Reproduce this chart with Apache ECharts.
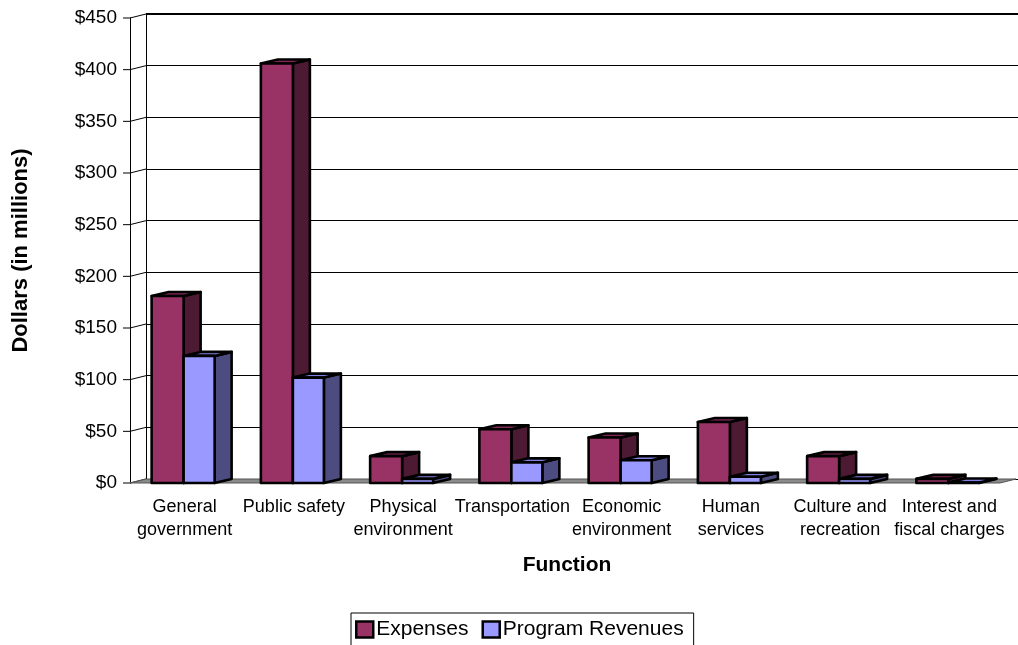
<!DOCTYPE html>
<html>
<head>
<meta charset="utf-8">
<script src="https://cdn.jsdelivr.net/npm/echarts@6/dist/echarts.min.js"></script>
<style>html,body{margin:0;padding:0;background:#fff}#c{width:1018px;height:645px}</style>
</head>
<body>
<div id="c"></div>
<script>
const categories = ['General\ngovernment','Public safety','Physical\nenvironment','Transportation','Economic\nenvironment','Human\nservices','Culture and\nrecreation','Interest and\nfiscal charges'];
const expenses = [181, 406, 26, 52, 44, 59, 26, 4];
const revenues = [123, 102, 4, 20, 22, 6, 4, 0.5];
const yTicks = [0, 50, 100, 150, 200, 250, 300, 350, 400, 450];

const FONT = 'Liberation Sans, Arial, sans-serif';
const WALL_DX = 16, WALL_DY = -4;
const BAR_DX = 17, BAR_DY = -4;

function barRenderer(front, side, top, offsetPx, widthPx) {
  return function (params, api) {
    const i = api.value(0), v = api.value(1);
    const t = api.coord([i, v]);
    const b = api.coord([i, 0]);
    const x0 = t[0] + offsetPx;
    const x1 = x0 + widthPx;
    const yt = t[1], yb = b[1];
    const st = { stroke: '#000', lineWidth: 2.6, lineJoin: 'round' };
    return {
      type: 'group',
      children: [
        { type: 'polygon', shape: { points: [[x1, yt], [x1 + BAR_DX, yt + BAR_DY], [x1 + BAR_DX, yb + BAR_DY], [x1, yb]] }, style: Object.assign({ fill: side }, st) },
        { type: 'polygon', shape: { points: [[x0, yt], [x0 + BAR_DX, yt + BAR_DY], [x1 + BAR_DX, yt + BAR_DY], [x1, yt]] }, style: Object.assign({ fill: top }, st) },
        { type: 'rect', shape: { x: x0, y: yt, width: widthPx, height: yb - yt }, style: Object.assign({ fill: front }, st) }
      ]
    };
  };
}

function frameRenderer(params, api) {
  const v = api.value(0);
  const bw = api.size([1, 0])[0];
  const p = api.coord([0, v]);
  const xl = p[0] - bw / 2;
  const pr = api.coord([categories.length - 1, v]);
  const xr = pr[0] + bw / 2;
  const children = [
    { type: 'line', shape: { x1: xl - 7, y1: p[1], x2: xl, y2: p[1] }, style: { stroke: '#000', lineWidth: 1 } },
    { type: 'line', shape: { x1: xl, y1: p[1], x2: xl + WALL_DX, y2: p[1] + WALL_DY }, style: { stroke: '#000', lineWidth: 1 } }
  ];
  if (v === 0) {
    children.push({ type: 'polygon', shape: { points: [[xl, p[1]], [xr - 4, p[1]], [xr + WALL_DX - 4, p[1] + WALL_DY], [xl + WALL_DX, p[1] + WALL_DY]] }, style: { fill: '#8a8a8a', stroke: '#555', lineWidth: 1 } });
  }
  if (v === yTicks[yTicks.length - 1]) {
    children.push({ type: 'line', shape: { x1: xl + WALL_DX, y1: p[1] + WALL_DY, x2: xr + WALL_DX + 20, y2: p[1] + WALL_DY }, style: { stroke: '#000', lineWidth: 2 } });
  }
  return { type: 'group', children };
}

const chart = echarts.init(document.getElementById('c'), null, { renderer: 'canvas' });
chart.setOption({
  animation: false,
  backgroundColor: '#fff',
  textStyle: { fontFamily: FONT, color: '#000' },
  grid: [
    { left: 130, right: 14, top: 18, bottom: 162 },
    { left: 146, right: 0, top: 14, bottom: 166 }
  ],
  xAxis: [
    {
      type: 'category', gridIndex: 0, data: categories,
      axisLine: { show: false }, axisTick: { show: false },
      axisLabel: { interval: 0, color: '#000', fontSize: 18, fontFamily: FONT, lineHeight: 23, margin: 13 },
      name: 'Function', nameLocation: 'middle', nameGap: 72,
      nameTextStyle: { fontSize: 21, fontWeight: 'bold', fontFamily: FONT, color: '#000' }
    },
    { type: 'value', gridIndex: 1, show: false }
  ],
  yAxis: [
    {
      type: 'value', gridIndex: 0, min: 0, max: 450, interval: 50,
      axisLine: { show: true, lineStyle: { color: '#000', width: 1 } },
      axisTick: { show: false },
      splitLine: { show: false },
      axisLabel: { formatter: v => '$' + v, color: '#000', fontSize: 19, fontFamily: FONT, margin: 13 },
      name: 'Dollars (in millions)', nameLocation: 'middle', nameRotate: 90, nameGap: 98,
      nameTextStyle: { fontSize: 22, fontWeight: 'bold', fontFamily: FONT, color: '#000' }
    },
    {
      type: 'value', gridIndex: 1, min: 0, max: 450, interval: 50,
      axisLine: { show: true, lineStyle: { color: '#000', width: 1 } },
      axisTick: { show: false }, axisLabel: { show: false },
      splitLine: { show: true, lineStyle: { color: '#000', width: 1 } }
    }
  ],
  legend: {
    data: ['Expenses', 'Program Revenues'],
    left: 351, top: 613,
    orient: 'horizontal',
    icon: 'rect', itemWidth: 17, itemHeight: 16, itemGap: 13,
    padding: [6, 10, 6, 4],
    borderColor: '#000', borderWidth: 1,
    textStyle: { fontSize: 21, fontFamily: FONT, color: '#000', padding: [0, 0, 0, -2] },
    itemStyle: { borderColor: '#000', borderWidth: 2.5 }
  },
  series: [
    {
      name: 'frame', type: 'custom', xAxisIndex: 0, yAxisIndex: 0, z: 1,
      data: yTicks.map(v => [v]),
      encode: { y: 0 },
      renderItem: frameRenderer, silent: true
    },
    {
      name: 'Expenses', type: 'custom', xAxisIndex: 0, yAxisIndex: 0, z: 2,
      itemStyle: { color: '#993366' },
      data: expenses.map((v, i) => [i, v]),
      encode: { x: 0, y: 1 },
      renderItem: barRenderer('#993366', '#4d1a33', '#82295a', -33, 32)
    },
    {
      name: 'Program Revenues', type: 'custom', xAxisIndex: 0, yAxisIndex: 0, z: 3,
      itemStyle: { color: '#9999ff' },
      data: revenues.map((v, i) => [i, v]),
      encode: { x: 0, y: 1 },
      renderItem: barRenderer('#9999ff', '#4c4c80', '#8080e0', -1, 31)
    }
  ]
});
</script>
</body>
</html>
